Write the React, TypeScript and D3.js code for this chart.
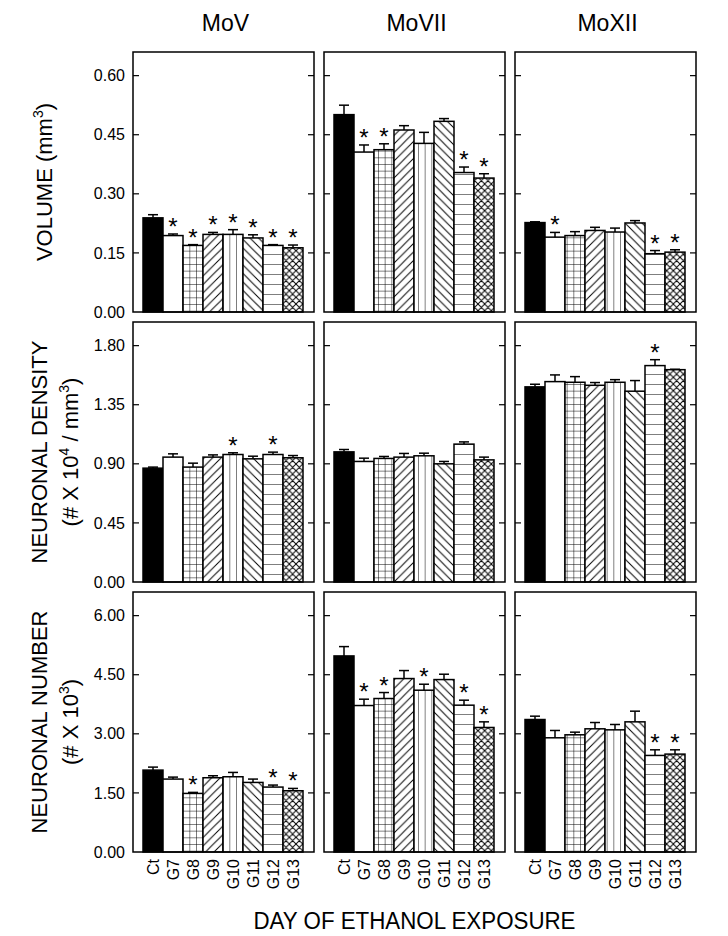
import React from "react";
import * as d3 from "d3";

const categories = ["Ct", "G7", "G8", "G9", "G10", "G11", "G12", "G13"];
const regions = ["MoV", "MoVII", "MoXII"];
const fills = ["solid", "white", "grid", "fwd", "vert", "back", "horiz", "cross"];

// VOLUME (mm3)
const volMoV = [0.239, 0.194, 0.169, 0.197, 0.197, 0.188, 0.169, 0.163];
const volMoVErr = [0.008, 0.004, 0.002, 0.005, 0.012, 0.008, 0.002, 0.007];
const volMoVSig = [0, 1, 1, 1, 1, 1, 1, 1];
const volMoVII = [0.501, 0.406, 0.412, 0.462, 0.428, 0.484, 0.354, 0.34];
const volMoVIIErr = [0.024, 0.018, 0.015, 0.011, 0.028, 0.007, 0.014, 0.011];
const volMoVIISig = [0, 1, 1, 0, 0, 0, 1, 1];
const volMoXII = [0.227, 0.19, 0.194, 0.207, 0.203, 0.226, 0.148, 0.152];
const volMoXIIErr = [0.002, 0.012, 0.01, 0.008, 0.01, 0.006, 0.008, 0.006];
const volMoXIISig = [0, 1, 0, 0, 0, 0, 1, 1];

// NEURONAL DENSITY
const denMoV = [0.867, 0.951, 0.875, 0.951, 0.971, 0.938, 0.971, 0.946];
const denMoVErr = [0.008, 0.025, 0.03, 0.017, 0.013, 0.02, 0.018, 0.017];
const denMoVSig = [0, 0, 0, 0, 1, 0, 1, 0];
const denMoVII = [0.991, 0.918, 0.941, 0.951, 0.961, 0.9, 1.05, 0.93];
const denMoVIIErr = [0.018, 0.025, 0.015, 0.028, 0.02, 0.018, 0.017, 0.021];
const denMoVIISig = [0, 0, 0, 0, 0, 0, 0, 0];
const denMoXII = [1.486, 1.526, 1.521, 1.498, 1.521, 1.453, 1.648, 1.617];
const denMoXIIErr = [0.02, 0.051, 0.043, 0.021, 0.02, 0.081, 0.045, 0.003];
const denMoXIISig = [0, 0, 0, 0, 0, 0, 1, 0];

// NEURONAL NUMBER
const numMoV = [2.079, 1.851, 1.487, 1.885, 1.91, 1.766, 1.648, 1.555];
const numMoVErr = [0.076, 0.05, 0.026, 0.05, 0.11, 0.085, 0.051, 0.059];
const numMoVSig = [0, 0, 1, 0, 0, 0, 1, 1];
const numMoVII = [4.977, 3.718, 3.896, 4.403, 4.107, 4.377, 3.727, 3.161];
const numMoVIIErr = [0.237, 0.161, 0.152, 0.203, 0.152, 0.136, 0.127, 0.143];
const numMoVIISig = [0, 1, 1, 0, 1, 0, 1, 1];
const numMoXII = [3.363, 2.899, 2.975, 3.127, 3.101, 3.304, 2.451, 2.485];
const numMoXIIErr = [0.085, 0.186, 0.067, 0.16, 0.136, 0.271, 0.143, 0.109];
const numMoXIISig = [0, 0, 0, 0, 0, 0, 1, 1];

const rowTopTicks = [0.6, 1.8, 6.0];

const rows = [
  [
    [volMoV, volMoVErr, volMoVSig],
    [volMoVII, volMoVIIErr, volMoVIISig],
    [volMoXII, volMoXIIErr, volMoXIISig],
  ],
  [
    [denMoV, denMoVErr, denMoVSig],
    [denMoVII, denMoVIIErr, denMoVIISig],
    [denMoXII, denMoXIIErr, denMoXIISig],
  ],
  [
    [numMoV, numMoVErr, numMoVSig],
    [numMoVII, numMoVIIErr, numMoVIISig],
    [numMoXII, numMoXIIErr, numMoXIISig],
  ],
];

const W = 728;
const H = 936;
const panelX = [133, 324, 515];
const panelY = [52, 322, 592];
const PW = 181;
const PH = 260;
const FONT = "Arial, 'Liberation Sans', sans-serif";

function patternContent(kind: string) {
  const sw = 1;
  if (kind === "grid") {
    const s = 20 / 3;
    return { w: s, h: s, el: <path d={`M0,0V${s}M0,0H${s}`} stroke="#000" strokeWidth={sw} fill="none" /> };
  }
  if (kind === "vert") {
    const s = 20 / 3;
    return { w: s, h: 10, el: <path d={`M0,0V10`} stroke="#000" strokeWidth={sw} fill="none" /> };
  }
  if (kind === "horiz") {
    return { w: 10, h: 10, el: <path d={`M0,0H10`} stroke="#000" strokeWidth={sw} fill="none" /> };
  }
  if (kind === "fwd") {
    const s = 8.5;
    return {
      w: s,
      h: s,
      el: <path d={`M0,${s}L${s},0M-1,1L1,-1M${s - 1},${s + 1}L${s + 1},${s - 1}`} stroke="#000" strokeWidth={sw} fill="none" />,
    };
  }
  if (kind === "back") {
    const s = 8.5;
    return {
      w: s,
      h: s,
      el: <path d={`M0,0L${s},${s}M-1,${s - 1}L1,${s + 1}M${s - 1},-1L${s + 1},1`} stroke="#000" strokeWidth={sw} fill="none" />,
    };
  }
  const s = 20 / 3;
  return {
    w: s,
    h: s,
    el: (
      <path
        d={`M0,0L${s},${s}M0,${s}L${s},0M-1,1L1,-1M${s - 1},${s + 1}L${s + 1},${s - 1}M-1,${s - 1}L1,${s + 1}M${s - 1},-1L${s + 1},1`}
        stroke="#000"
        strokeWidth={sw}
        fill="none"
      />
    ),
  };
}

export default function App() {
  const x = d3.scaleBand<string>().domain(categories).range([10, 170]).padding(0);
  const bw = x.bandwidth();

  const defs: React.ReactNode[] = [];
  rows.forEach((row, r) => {
    row.forEach((_, c) => {
      categories.forEach((cat, i) => {
        const kind = fills[i];
        if (kind === "solid" || kind === "white") return;
        const pc = patternContent(kind);
        defs.push(
          <pattern
            key={`p-${r}-${c}-${i}`}
            id={`p-${r}-${c}-${i}`}
            patternUnits="userSpaceOnUse"
            x={panelX[c] + (x(cat) as number)}
            y={panelY[r] + PH}
            width={pc.w}
            height={pc.h}
          >
            <rect x={0} y={0} width={pc.w} height={pc.h} fill="#fff" />
            {pc.el}
          </pattern>
        );
      });
    });
  });

  const labelSize = 22;

  return (
    <svg width={W} height={H} style={{ position: "absolute", left: 0, top: 0, display: "block" }} fontFamily={FONT}>
      <rect x={0} y={0} width={W} height={H} fill="#fff" />
      <defs>{defs}</defs>

      {regions.map((name, c) => (
        <text key={name} x={panelX[c] + PW / 2 + 2} y={31} textAnchor="middle" fontSize={23} fill="#000">
          {name}
        </text>
      ))}

      {rows.map((row, r) => {
        const top = rowTopTicks[r];
        const y = d3.scaleLinear().domain([0, top * 1.1]).range([PH, 0]);
        const ticks = d3.range(0, 5).map((k) => (top / 4) * k);
        const fmt = d3.format(".2f");
        return (
          <g key={`row-${r}`}>
            {ticks.map((t) => (
              <text
                key={`tl-${t}`}
                x={panelX[0] - 8}
                y={panelY[r] + y(t)}
                dy="0.35em"
                textAnchor="end"
                fontSize={16}
                fill="#000"
              >
                {fmt(t)}
              </text>
            ))}
            {row.map(([means, errs, sigs], c) => (
              <g key={`panel-${r}-${c}`} transform={`translate(${panelX[c]},${panelY[r]})`}>
                {categories.map((cat, i) => {
                  const kind = fills[i];
                  const fill = kind === "solid" ? "#000" : kind === "white" ? "#fff" : `url(#p-${r}-${c}-${i})`;
                  return (
                    <rect
                      key={`b-${cat}`}
                      x={x(cat)}
                      y={y(means[i])}
                      width={bw}
                      height={PH - y(means[i])}
                      fill={fill}
                      stroke="#000"
                      strokeWidth={1.5}
                    />
                  );
                })}
                {categories.map((cat, i) => {
                  const cx = (x(cat) as number) + bw / 2;
                  const y0 = y(means[i]);
                  const y1 = y(means[i] + errs[i]);
                  return (
                    <g key={`e-${cat}`}>
                      <line x1={cx} x2={cx} y1={y0} y2={y1} stroke="#000" strokeWidth={1.5} />
                      <line x1={cx - 5} x2={cx + 5} y1={y1} y2={y1} stroke="#000" strokeWidth={1.5} />
                      {sigs[i] ? (
                        <text x={cx} y={y1 + 1} textAnchor="middle" fontSize={24} fill="#000">
                          *
                        </text>
                      ) : null}
                    </g>
                  );
                })}
                {ticks.slice(1).map((t) => (
                  <g key={`tk-${t}`}>
                    <line x1={0} x2={6} y1={y(t)} y2={y(t)} stroke="#000" strokeWidth={1.2} />
                    <line x1={PW - 6} x2={PW} y1={y(t)} y2={y(t)} stroke="#000" strokeWidth={1.2} />
                  </g>
                ))}
                <rect x={0} y={0} width={PW} height={PH} fill="none" stroke="#000" strokeWidth={1.5} />
              </g>
            ))}
          </g>
        );
      })}

      <text transform={`translate(52,${panelY[0] + PH / 2}) rotate(-90)`} textAnchor="middle" fontSize={labelSize} fill="#000">
        VOLUME (mm<tspan dy={-9} fontSize={14}>3</tspan>
        <tspan dy={9}>)</tspan>
      </text>
      <text transform={`translate(47,${panelY[1] + PH / 2}) rotate(-90)`} textAnchor="middle" fontSize={labelSize} fill="#000">
        NEURONAL DENSITY
      </text>
      <text transform={`translate(78,${panelY[1] + PH / 2}) rotate(-90)`} textAnchor="middle" fontSize={labelSize} fill="#000">
        (# X 10<tspan dy={-9} fontSize={14}>4</tspan>
        <tspan dy={9}> / mm</tspan>
        <tspan dy={-9} fontSize={14}>3</tspan>
        <tspan dy={9}>)</tspan>
      </text>
      <text transform={`translate(47,${panelY[2] + PH / 2}) rotate(-90)`} textAnchor="middle" fontSize={labelSize} fill="#000">
        NEURONAL NUMBER
      </text>
      <text transform={`translate(78,${panelY[2] + PH / 2}) rotate(-90)`} textAnchor="middle" fontSize={labelSize} fill="#000">
        (# X 10<tspan dy={-9} fontSize={14}>3</tspan>
        <tspan dy={9}>)</tspan>
      </text>

      {panelX.map((px, c) =>
        categories.map((cat) => {
          const cx = px + (x(cat) as number) + bw / 2 + 5.5;
          return (
            <text
              key={`xl-${c}-${cat}`}
              transform={`translate(${cx},${panelY[2] + PH + 7}) rotate(-90)`}
              textAnchor="end"
              fontSize={16}
              fill="#000"
            >
              {cat}
            </text>
          );
        })
      )}

      <text
        x={panelX[1] + PW / 2}
        y={929}
        textAnchor="middle"
        fontSize={23}
        textLength={322}
        lengthAdjust="spacingAndGlyphs"
        fill="#000"
      >
        DAY OF ETHANOL EXPOSURE
      </text>
    </svg>
  );
}
